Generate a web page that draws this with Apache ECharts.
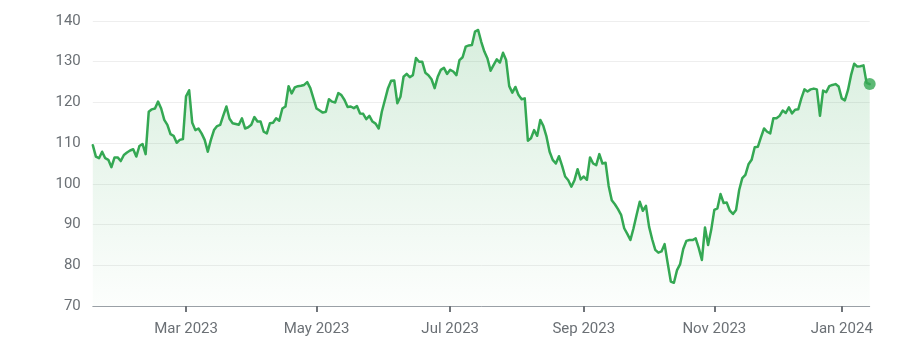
<!DOCTYPE html>
<html>
<head>
<meta charset="utf-8">
<script src="https://cdn.jsdelivr.net/npm/echarts@6/dist/echarts.min.js"></script>
<style>
html,body{margin:0;padding:0;background:#fff;}
#chart{width:903px;height:356px;}
</style>
</head>
<body>
<div id="chart"></div>
<script>
// Trading-day closing prices (index = trading day since start, Jan 2023 -> Jan 2024)
const price = [
109.5,106.7,106.3,107.9,106.3,105.9,104.1,106.5,106.5,105.6,
107.1,107.7,108.2,108.5,106.7,109.3,109.8,107.3,117.7,118.3,
118.5,120.2,118.5,115.7,114.5,112.2,111.8,110.1,110.8,111.0,
121.5,123.0,115.0,113.2,113.6,112.4,110.8,107.9,110.8,113.2,
114.2,114.5,116.8,119.0,116.0,114.9,114.7,114.5,116.1,113.6,
113.9,114.5,116.4,115.3,115.3,112.8,112.4,114.9,115.0,116.1,
115.5,118.5,119.0,124.0,122.2,123.7,124.0,124.1,124.3,125.0,
123.5,121.0,118.5,118.0,117.5,117.7,120.8,120.2,120.0,122.3,
121.8,120.6,118.9,119.0,118.6,119.1,117.3,117.2,115.9,116.7,
115.3,114.8,113.6,117.7,120.6,123.5,125.3,125.4,119.8,121.4,
126.3,127.0,126.2,126.7,130.9,130.0,130.0,127.3,126.7,125.7,
123.5,126.3,128.0,128.5,127.0,128.0,127.6,126.7,130.4,131.1,
133.7,134.0,134.1,137.4,137.8,134.9,132.5,130.8,127.8,129.2,
130.6,129.8,132.2,130.4,124.0,122.4,123.8,121.8,120.8,121.0,
110.6,111.2,113.2,111.8,115.7,114.2,111.6,107.9,105.9,105.0,
106.8,104.5,101.8,100.9,99.3,100.9,103.6,101.1,101.8,101.0,
106.5,105.0,104.6,107.3,105.0,105.2,99.5,96.0,95.0,93.8,
92.4,89.1,87.7,86.2,89.1,92.4,95.6,93.4,94.6,89.5,
86.4,83.8,83.1,83.4,85.2,80.5,76.0,75.7,78.8,80.3,
84.0,86.0,86.2,86.2,86.6,84.2,81.3,89.3,85.0,88.7,
93.6,94.0,97.5,95.3,95.4,93.4,92.6,93.6,98.5,101.4,
102.2,104.8,105.9,109.0,109.1,111.4,113.6,112.8,112.4,116.1,
116.1,116.7,118.0,117.4,118.8,117.3,118.2,118.3,121.0,123.2,
122.7,123.2,123.4,123.2,116.7,122.9,122.5,124.0,124.3,124.5,
123.9,121.0,120.5,123.0,126.7,129.5,128.8,128.9,129.1,124.8,
124.5
];
// x-axis tick positions (trading-day index of first trading day of month) and labels
const tickIndex = [30, 72, 115, 158, 200, 241];
const tickLabels = ["Mar 2023", "May 2023", "Jul 2023", "Sep 2023", "Nov 2023", "Jan 2024"];
const yTicks = [70, 80, 90, 100, 110, 120, 130, 140];

const green = '#34a853';
const labelMap = {};
tickIndex.forEach((v, i) => { labelMap[v] = tickLabels[i]; });
const lineData = price.map((v, i) => [i, v]);
const lastIdx = price.length - 1;

const chart = echarts.init(document.getElementById('chart'), null, {renderer: 'canvas'});
chart.setOption({
  animation: false,
  backgroundColor: '#ffffff',
  grid: {left: 92.8, right: 33.3, top: 21, bottom: 50, containLabel: false},
  xAxis: {
    type: 'value',
    min: 0,
    max: lastIdx,
    axisLine: {show: true, lineStyle: {color: '#9aa0a6', width: 1}},
    axisTick: {show: true, customValues: tickIndex, length: 6, lineStyle: {color: '#70757a', width: 2}},
    axisLabel: {
      customValues: tickIndex,
      formatter: v => labelMap[v] || '',
      color: '#6b7075',
      fontFamily: 'Roboto',
      fontSize: 15,
      margin: 16
    },
    splitLine: {show: false}
  },
  yAxis: {
    type: 'value',
    min: yTicks[0],
    max: yTicks[yTicks.length - 1],
    interval: 10,
    axisLine: {show: false},
    axisTick: {show: false},
    axisLabel: {color: '#6b7075', fontFamily: 'Roboto', fontSize: 15, margin: 12},
    splitLine: {show: true, lineStyle: {color: '#eeeeee', width: 1}}
  },
  series: [
    {
      type: 'line',
      data: lineData,
      symbol: 'none',
      smooth: false,
      lineStyle: {color: green, width: 2.5, join: 'round', cap: 'round'},
      areaStyle: {
        color: new echarts.graphic.LinearGradient(0, 0, 0, 1, [
          {offset: 0, color: 'rgba(52,168,83,0.28)'},
          {offset: 1, color: 'rgba(52,168,83,0.02)'}
        ])
      },
      z: 2
    },
    {
      type: 'scatter',
      data: [[lastIdx, price[lastIdx]]],
      symbol: 'circle',
      symbolSize: 12,
      itemStyle: {color: green},
      z: 3
    }
  ]
});
</script>
</body>
</html>
